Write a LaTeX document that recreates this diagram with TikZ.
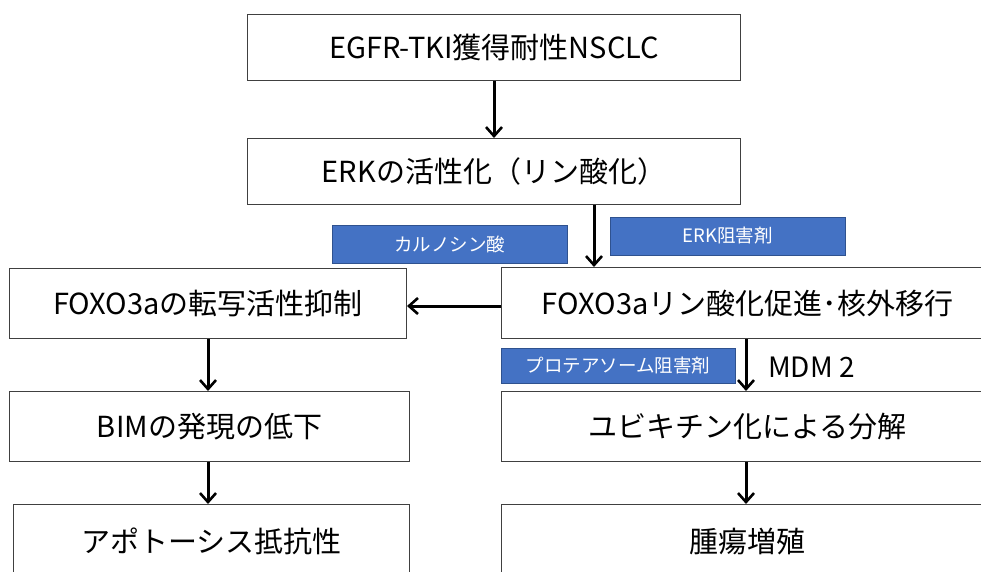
\documentclass[tikz,border=0pt]{standalone}
\usepackage{fontspec}
\setmainfont{Noto Sans CJK JP}
\usetikzlibrary{arrows.meta}
\definecolor{boxblue}{HTML}{4472C4}
\definecolor{boxblueedge}{HTML}{2F528F}
\tikzset{
  box/.style={draw=black!75, line width=1pt, fill=white, inner sep=0pt, anchor=north west,
    font=\fontsize{29}{32}\selectfont, text=black},
  bluebox/.style={draw=boxblueedge, line width=1pt, fill=boxblue, inner sep=0pt,
    font=\fontsize{18.5}{20}\selectfont, text=white},
  arr/.style={line width=3pt, -{Straight Barb[length=9pt,width=16pt,line width=2.6pt]}},
}
\begin{document}
\begin{tikzpicture}[x=1pt,y=-1pt]
\useasboundingbox (0,0) rectangle (981,571);
% main boxes
\node[box, minimum width=493, minimum height=66] (egfr) at (247,14) {EGFR-TKI獲得耐性NSCLC};
\node[box, minimum width=493, minimum height=66] (erk) at (247,138) {ERKの活性化（リン酸化）};
\node[box, minimum width=397, minimum height=70] (fl) at (9,268) {FOXO3aの転写活性抑制};
\node[box, minimum width=492, minimum height=71] (fr) at (501,267) {FOXO3aリン酸化促進･核外移行};
\node[box, minimum width=400, minimum height=70] (bim) at (9,391) {BIMの発現の低下};
\node[box, minimum width=492, minimum height=70] (ub) at (501,391) {ユビキチン化による分解};
\node[box, minimum width=396, minimum height=74] (apo) at (13,504) {アポトーシス抵抗性};
\node[box, minimum width=492, minimum height=74] (tum) at (501,504) {腫瘍増殖};
% blue boxes
\node[bluebox, minimum width=235, minimum height=38] (carn) at (449.5,244) {カルノシン酸};
\node[bluebox, minimum width=235, minimum height=38] (erki) at (727.5,236) {ERK阻害剤};
\node[bluebox, minimum width=234, minimum height=35] (prot) at (618,365.5) {プロテアソーム阻害剤};
\node[font=\fontsize{28}{30}\selectfont, inner sep=0pt, anchor=west] (mdm) at (768,367) {MDM 2};
% helper coordinates
\coordinate (xa) at (594,0);
\coordinate (xb) at (746,0);
\coordinate (xc) at (208,0);
% connectors
\draw[arr] (egfr.south) -- (erk.north);
\draw[arr] (erk.south -| xa) -- (fr.north -| xa);
\draw[arr] (fr.west |- 0,306) -- (fl.east |- 0,306);
\draw[arr] (fr.south -| xb) -- (ub.north -| xb);
\draw[arr] (ub.south -| xb) -- (tum.north -| xb);
\draw[arr] (fl.south -| xc) -- (bim.north -| xc);
\draw[arr] (bim.south -| xc) -- (apo.north -| xc);
\end{tikzpicture}
\end{document}
